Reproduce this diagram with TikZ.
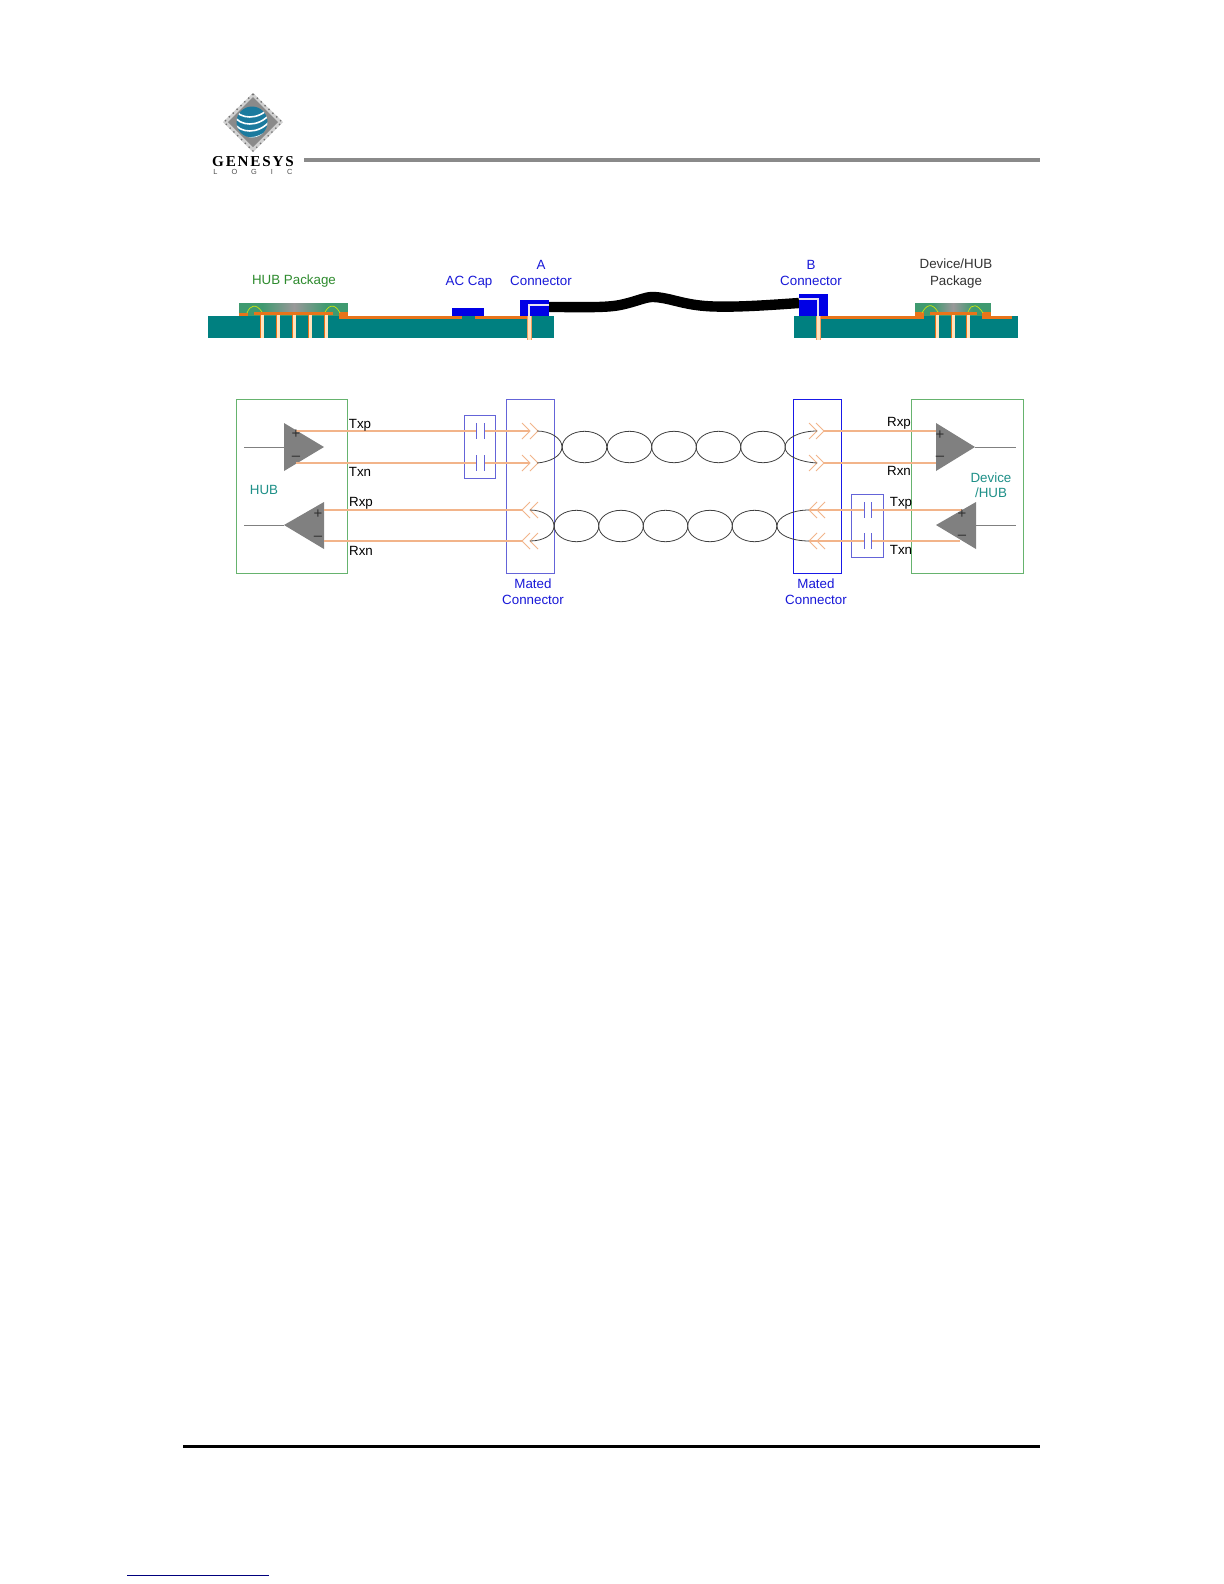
\documentclass[tikz,border=0pt]{standalone}
\usepackage{fontspec}
\setmainfont{Liberation Sans}
\newfontfamily\logofont[LetterSpace=12]{Liberation Serif}
\newfontfamily\logosmall[LetterSpace=190]{Liberation Sans}
\usetikzlibrary{positioning, calc}
\definecolor{pcbteal}{HTML}{008080}
\definecolor{pkggreen}{HTML}{3F9A70}
\definecolor{traceorg}{HTML}{E8741A}
\definecolor{viacream}{HTML}{FFE3BD}
\definecolor{sigorg}{HTML}{F2B48A}
\definecolor{connblue}{HTML}{0000E6}
\definecolor{boxblue}{HTML}{6464D8}
\definecolor{boxgreen}{HTML}{66B36E}
\definecolor{ampgray}{HTML}{808080}
\definecolor{hdrgray}{HTML}{8A8A8A}
\definecolor{lblgreen}{HTML}{2E8B2E}
\definecolor{lblteal}{HTML}{1E9088}
\definecolor{lblblue}{HTML}{1818D8}
\definecolor{dkgray}{HTML}{303030}
\definecolor{globeblue}{HTML}{1B7A9E}
\tikzset{
  lbl/.style={font=\fontsize{6.7}{8}\selectfont, inner sep=0pt},
  pair/.style={lbl, text=black},
  sigline/.style={sigorg, line width=0.55pt},
  chevron/.style={sigorg, line width=0.4pt},
  twist/.style={black!75, line width=0.4pt},
  capplate/.style={boxblue, line width=0.5pt},
  amp/.style={fill=ampgray, draw=none},
  ampwire/.style={ampgray, line width=0.45pt},
  sign/.style={font=\fontsize{7.5}{8}\selectfont, inner sep=0pt, text=dkgray}
}
\begin{document}
\begin{tikzpicture}[x=0.5bp, y=-0.5bp]
\useasboundingbox (0,0) rectangle (1224,1584);
\fill[white] (0,0) rectangle (1224,1584);

% Header: logo and rule
\fill[black!18] (253,93) -- (283,122) -- (253,152) -- (223,122) -- cycle;
\draw[black!55, line width=0.7pt, dotted] (253,94) -- (282,122) -- (253,151) -- (224,122) -- cycle;
\fill[hdrgray] (253,97) -- (278,122) -- (253,147) -- (228,122) -- cycle;
\fill[globeblue] (252,122) circle (15.5);
\begin{scope}
  \clip (252,122) circle (15.5);
  \foreach \sy in {-9,-2,5,12}
    \draw[white, line width=0.8pt] (234,{118+\sy}) .. controls (240,{128+\sy}) and (258,{130+\sy}) .. (270,{116+\sy});
\end{scope}
\node[anchor=center, inner sep=0pt, font=\logofont\bfseries\fontsize{7.6}{8}\selectfont] (logoname) at (253,162) {GENESYS};
\node[anchor=west, inner sep=0pt, text=black!70, font=\logosmall\fontsize{3.7}{4}\selectfont] (logosub) at (213,172) {LOGIC};
\fill[hdrgray] (304,158) rectangle (1040,162);

% Boards
\fill[pcbteal] (208,316) rectangle (554,338);
\fill[pcbteal] (794,316) rectangle (1018,338);

% Left package on board
\fill[pkggreen] (239,303) rectangle (348,316);
\shade[left color=pkggreen, right color=pkggreen, middle color=black!40] (262,303) rectangle (326,312);
\fill[traceorg] (254,312) rectangle (333,315);
\fill[traceorg] (239,313) rectangle (248,316);
\fill[traceorg] (339,312) rectangle (348,316);
\fill[traceorg] (339,316) rectangle (462,319);
\fill[traceorg] (475,316) rectangle (528,319);
\draw[yellow!80!green, line width=0.35pt] (247,313) .. controls (250,305) and (256,303) .. (262,312);
\draw[yellow!80!green, line width=0.35pt] (325,312) .. controls (330,303) and (336,305) .. (340,313);
\foreach \vx in {262,278,294,310,326} {
  \fill[traceorg] ({\vx-2.5},315) rectangle ({\vx+2},338);
  \fill[viacream] ({\vx-1},315) rectangle ({\vx+1.5},338);
}

% AC cap
\fill[connblue] (452,308) rectangle (484,316);
\node[lbl, text=lblblue] (accap) at (469,282) {AC Cap};

% Right package on board
\fill[pkggreen] (915,303) rectangle (991,316);
\shade[left color=pkggreen, right color=pkggreen, middle color=black!40] (933,303) rectangle (973,312);
\fill[traceorg] (930,312) rectangle (977,315);
\fill[traceorg] (915,312) rectangle (924,319);
\fill[traceorg] (982,312) rectangle (991,319);
\fill[traceorg] (820,316) rectangle (915,319);
\fill[traceorg] (991,316) rectangle (1012,319);
\draw[yellow!80!green, line width=0.35pt] (922,313) .. controls (926,305) and (932,302) .. (938,312);
\draw[yellow!80!green, line width=0.35pt] (968,312) .. controls (972,302) and (978,305) .. (983,313);
\foreach \vx in {937,953,968} {
  \fill[traceorg] ({\vx-2.5},315) rectangle ({\vx+2},338);
  \fill[viacream] ({\vx-1},315) rectangle ({\vx+1.5},338);
}

% Cable between the connectors
\draw[black, line width=5.2pt] (549,307) .. controls (580,307) and (605,308) .. (620,305)
  .. controls (635,302) and (645,297) .. (652,297)
  .. controls (668,297) and (680,304) .. (705,306)
  .. controls (730,308) and (770,305) .. (799,303);

% Connector A and B with their contact lines
\fill[connblue] (520,300) rectangle (549,316);
\fill[connblue] (799,294) rectangle (828,316);
\draw[viacream!70!blue!30!white, line width=0.8pt] (549,305) -- (529,305) -- (529,316);
\draw[viacream!70!blue!30!white, line width=0.8pt] (799,299) -- (818,299) -- (818,316);
\fill[traceorg!70!white] (527,316) rectangle (531.5,340);
\fill[viacream] (528,316) rectangle (531,340);
\fill[traceorg!70!white] (816,316) rectangle (820.5,340);
\fill[viacream] (817,316) rectangle (820,340);

% Labels of the upper drawing
\node[lbl, text=lblgreen] (hubpkg) at (294,281) {HUB Package};
\node[lbl, text=lblblue] (conna) at (541,281) {Connector};
\node[lbl, text=lblblue, above=3pt of conna] (aname) {A};
\node[lbl, text=lblblue] (connb) at (811,281) {Connector};
\node[lbl, text=lblblue, above=3pt of connb] (bname) {B};
\node[lbl, text=black!80] (devpkg) at (956,282) {Package};
\node[lbl, text=black!80, above=3pt of devpkg] (devname) {Device/HUB};

% Lower drawing: boxes
\node[draw=boxgreen, line width=0.5pt, minimum width=55.5bp, minimum height=87bp, inner sep=0pt] (hubbox) at (291.5,486) {};
\node[draw=boxgreen, line width=0.5pt, minimum width=56bp, minimum height=87bp, inner sep=0pt] (devbox) at (967,486) {};
\node[draw=boxblue, line width=0.45pt, minimum width=24bp, minimum height=87bp, inner sep=0pt] (matea) at (530,486) {};
\node[draw=connblue!90!white, line width=0.45pt, minimum width=24bp, minimum height=87bp, inner sep=0pt] (mateb) at (817,486) {};
\node[draw=boxblue, line width=0.45pt, minimum width=15.5bp, minimum height=31.5bp, inner sep=0pt] (capa) at (479.5,446.5) {};
\node[draw=boxblue, line width=0.45pt, minimum width=16bp, minimum height=31.5bp, inner sep=0pt] (capb) at (867,525.5) {};

% Amplifiers
\fill[amp] (284,423) -- (284,471) -- (324,447) -- cycle;
\fill[amp] (324,502) -- (324,549) -- (284,525) -- cycle;
\fill[amp] (936,423) -- (936,471) -- (975,447) -- cycle;
\fill[amp] (976,502) -- (976,549) -- (936,525) -- cycle;
\draw[ampwire] (244,447) -- (284,447);
\draw[ampwire] (244,525) -- (284,525);
\draw[ampwire] (975,447) -- (1016,447);
\draw[ampwire] (976,525) -- (1016,525);

% Signal lines, the capacitors break them
\draw[sigline] (296,431) -- (476,431);
\draw[sigline] (484,431) -- (530,431);
\draw[sigline] (296,463) -- (476,463);
\draw[sigline] (484,463) -- (530,463);
\draw[sigline] (324,510) -- (522,510);
\draw[sigline] (324,541) -- (522,541);
\draw[sigline] (824,431) -- (936,431);
\draw[sigline] (824,463) -- (936,463);
\draw[sigline] (809,510) -- (864,510);
\draw[sigline] (871,510) -- (962,510);
\draw[sigline] (809,541) -- (864,541);
\draw[sigline] (871,541) -- (960,541);

% Capacitor plates
\foreach \px/\py in {476/431,484/431,476/463,484/463,864/510,871/510,864/541,871/541}
  \draw[capplate] (\px,{\py-8}) -- (\px,{\py+8});

% Chevrons in the mated connectors
\foreach \cx/\cy/\dir in {530/431/1,538/431/1,530/463/1,538/463/1,522/510/-1,530/510/-1,522/541/-1,530/541/-1,
                          817/431/1,824/431/1,817/463/1,824/463/1,809/510/-1,817/510/-1,809/541/-1,817/541/-1}
  \draw[chevron] ({\cx-8*\dir},{\cy-8}) -- (\cx,\cy) -- ({\cx-8*\dir},{\cy+8});

% Twisted pairs
\foreach \ex in {584.5,629.5,674,718.5,763}
  \draw[twist] (\ex,447) ellipse (22.3 and 15.7);
\foreach \ex in {576.5,621,665.5,710,754.5}
  \draw[twist] (\ex,526) ellipse (22.3 and 15.7);
\draw[twist] (537,431) .. controls (550,431) and (562,438) .. (562,447) .. controls (562,456) and (550,462) .. (537,463);
\draw[twist] (817,431) .. controls (800,431) and (785,438) .. (785,447) .. controls (785,456) and (800,462) .. (817,463);
\draw[twist] (530,510) .. controls (543,510) and (554,517) .. (554,526) .. controls (554,535) and (543,541) .. (530,541);
\draw[twist] (809,510) .. controls (792,510) and (777,517) .. (777,526) .. controls (777,535) and (792,541) .. (809,541);

% Polarity marks
\node[sign] (hubplusa) at (296,434) {+};
\node[sign] (hubminusa) at (296,458) {–};
\node[sign] (hubplusb) at (318,514) {+};
\node[sign] (hubminusb) at (318,538) {–};
\node[sign] (devplusa) at (940,435) {+};
\node[sign] (devminusa) at (940,458) {–};
\node[sign] (devplusb) at (962,514) {+};
\node[sign] (devminusb) at (962,537) {–};

% Pair names
\node[pair] (htxp) at (360,425) {Txp};
\node[pair] (htxn) at (360,472) {Txn};
\node[pair] (hrxp) at (361,503) {Rxp};
\node[pair] (hrxn) at (361,551) {Rxn};
\node[pair] (drxp) at (899,423) {Rxp};
\node[pair] (drxn) at (899,471) {Rxn};
\node[pair] (dtxp) at (901,503) {Txp};
\node[pair] (dtxn) at (901,550) {Txn};

% Box names
\node[lbl, text=lblteal] (hubname) at (264,490) {HUB};
\node[lbl, text=lblteal] (devtop) at (991,478) {Device};
\node[lbl, text=lblteal] (devbot) at (991,493) {/HUB};
\node[lbl, text=lblblue] (matelowa) at (533,600) {Connector};
\node[lbl, text=lblblue] (mateupa) at (533,584) {Mated};
\node[lbl, text=lblblue] (matelowb) at (816,600) {Connector};
\node[lbl, text=lblblue] (mateupb) at (816,584) {Mated};

% Footer rules
\fill[black] (183,1444.5) rectangle (1040,1448);
\fill[black!30!blue!70!black] (127,1574.5) rectangle (269,1575.7);
\end{tikzpicture}
\end{document}
